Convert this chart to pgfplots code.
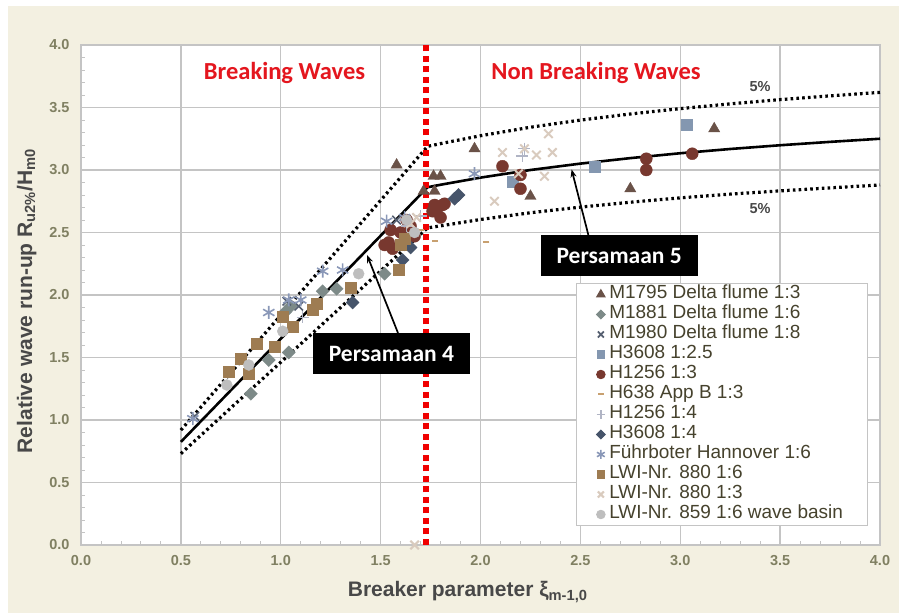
\documentclass[border=0pt]{standalone}
\usepackage{pgfplots}
\pgfplotsset{compat=1.18}
\usetikzlibrary{arrows.meta}
\usepackage{fontspec}
\setmainfont{Liberation Sans}
\newfontfamily\calibri{Carlito}
\definecolor{bg}{RGB}{243,240,225}
\definecolor{gridc}{RGB}{196,196,196}
\definecolor{tickc}{RGB}{128,128,98}
\definecolor{labc}{RGB}{72,72,72}
\definecolor{legc}{RGB}{70,66,45}
\definecolor{wred}{RGB}{228,22,30}
\definecolor{vred}{RGB}{240,0,0}
\definecolor{cA}{RGB}{106,82,72}   % M1795
\definecolor{cB}{RGB}{125,138,136} % M1881
\definecolor{cC}{RGB}{85,95,112}   % M1980
\definecolor{cD}{RGB}{132,151,176} % H3608 1:2.5
\definecolor{cE}{RGB}{120,56,47}   % H1256 1:3
\definecolor{cF}{RGB}{200,160,112} % H638
\definecolor{cG}{RGB}{176,180,196} % H1256 1:4
\definecolor{cH}{RGB}{70,84,106}   % H3608 1:4
\definecolor{cI}{RGB}{138,152,184} % Fuehrboter
\definecolor{cJ}{RGB}{158,124,82}  % LWI 880 1:6
\definecolor{cK}{RGB}{217,203,190} % LWI 880 1:3
\definecolor{cL}{RGB}{190,190,190} % LWI 859
\pgfplotsset{
  mk/.style={only marks,
    legend image code/.code={\draw[##1, mark size=#1] plot coordinates {(4.5pt,0pt)};}},
  mk/.default=4pt,
  dia/.style={mark=square*, mark options={rotate=45}},
}
\begin{document}
\begin{tikzpicture}
\useasboundingbox (0pt,0pt) rectangle (899pt,615pt);
\fill[white] (0pt,0pt) rectangle (899pt,615pt);
\fill[bg] (8pt,2pt) rectangle (899pt,609pt);
\begin{axis}[
  at={(81pt,70pt)}, anchor=south west,
  scale only axis, width=799pt, height=500pt,
  xmin=0, xmax=4, ymin=0, ymax=4,
  xtick={0,0.5,...,4}, ytick={0,0.5,...,4},
  minor x tick num=4, minor y tick num=4,
  axis background/.style={fill=white},
  grid=major, major grid style={gridc, line width=1.3pt},
  axis line style={gridc, line width=1.3pt},
  tick align=inside, tick pos=left,
  major tick length=0pt, minor tick length=4pt,
  minor tick style={gridc, line width=0.9pt},
  /pgf/number format/assume math mode=true,
  xticklabel style={/pgf/number format/fixed, /pgf/number format/fixed zerofill, /pgf/number format/precision=1, yshift=-7pt},
  yticklabel style={/pgf/number format/fixed, /pgf/number format/fixed zerofill, /pgf/number format/precision=1, xshift=-8pt},
  ticklabel style={font=\bfseries\fontsize{14.5}{14.5}\selectfont, text=tickc},
  xlabel={Breaker parameter ξ\textsubscript{m-1,0}},
  ylabel={Relative wave run-up R\textsubscript{u2\%}/H\textsubscript{m0}},
  every axis x label/.style={at={(axis description cs:0.484,-0.094)}, anchor=center, font=\bfseries\fontsize{21}{21}\selectfont, text=labc},
  every axis y label/.style={at={(axis description cs:-0.068,0.488)}, anchor=center, rotate=90, font=\bfseries\fontsize{21}{21}\selectfont, text=labc},
  legend style={at={(axis description cs:0.6195,0.524)}, anchor=north west,
    draw=gridc, line width=1pt, fill=white, inner xsep=20pt, inner ysep=2.5pt, row sep=3pt,
    nodes={font=\fontsize{19}{19}\selectfont, text=legc, inner xsep=4pt, inner ysep=0pt, text height=13pt, text depth=4pt}},
  legend cell align=left,
]
% M1795 Delta flume 1:3
\addplot[mk=4.8pt, mark=triangle*, mark size=6.5pt, color=cA] coordinates {
 (1.58,3.04) (1.97,3.17) (1.765,2.95) (1.80,2.95) (1.715,2.83) (1.77,2.83)
 (2.25,2.79) (2.75,2.85) (3.17,3.33)};
\addlegendentry{M1795 Delta flume 1:3}
% M1881 Delta flume 1:6
\addplot[mk=3.1pt, dia, mark size=4.6pt, color=cB] coordinates {
 (0.85,1.21) (0.94,1.48) (1.04,1.54) (1.05,1.91) (1.21,2.03) (1.28,2.05)
 (1.52,2.17) (1.02,1.86)};
\addlegendentry{M1881 Delta flume 1:6}
% M1980 Delta flume 1:8
\addplot[mk=4.2pt, mark=x, mark size=6pt, line width=1.6pt, color=cC] coordinates {
 (1.03,1.95) (1.58,2.60) (1.09,1.91) (0.57,1.03)};
\addlegendentry{M1980 Delta flume 1:8}
% H3608 1:2.5
\addplot[mk=3.8pt, mark=square*, mark size=5.5pt, color=cD] coordinates {
 (3.03,3.36) (2.57,3.03) (2.16,2.91)};
\addlegendentry{H3608 1:2.5}
% H1256 1:3
\addplot[mk=4.2pt, mark=*, mark size=6pt, color=cE] coordinates {
 (2.11,3.03) (2.20,2.96) (2.20,2.85) (2.83,3.09) (2.83,3.00) (3.06,3.13)
 (1.82,2.73) (1.77,2.72) (1.81,2.72) (1.76,2.67) (1.78,2.68) (1.80,2.62)
 (1.55,2.52) (1.52,2.40) (1.56,2.37) (1.54,2.42) (1.60,2.50) (1.65,2.55)
 (1.67,2.47) (1.63,2.60)};
\addlegendentry{H1256 1:3}
% H638 App B 1:3
\addplot[mk=3pt, mark=-, mark size=3pt, line width=2pt, color=cF] coordinates {
 (1.77,2.43) (2.03,2.42) (1.70,2.52)};
\addlegendentry{H638 App B 1:3}
% H1256 1:4
\addplot[mk=4.2pt, mark=+, mark size=6pt, line width=1.5pt, color=cG] coordinates {
 (2.21,3.11) (2.22,3.17) (1.11,1.82) (1.63,2.55) (1.70,2.63)};
\addlegendentry{H1256 1:4}
% H3608 1:4
\addplot[mk=3.1pt, dia, mark size=4.6pt, color=cH] coordinates {
 (1.89,2.80) (1.87,2.77) (1.61,2.28) (1.36,1.94) (1.65,2.38)};
\addlegendentry{H3608 1:4}
% Fuehrboter Hannover 1:6
\addplot[mk=4.5pt, mark=asterisk, mark size=6.5pt, line width=1.6pt, color=cI] coordinates {
 (0.56,1.01) (0.94,1.86) (1.04,1.96) (1.10,1.96) (1.21,2.19) (1.31,2.20)
 (1.53,2.59) (1.97,2.97) (1.62,2.62)};
\addlegendentry{Führboter Hannover 1:6}
% LWI-Nr. 880 1:6
\addplot[mk=3.8pt, mark=square*, mark size=5.5pt, color=cJ] coordinates {
 (0.74,1.39) (0.80,1.49) (0.84,1.37) (0.88,1.61) (0.97,1.59) (1.01,1.83)
 (1.06,1.75) (1.16,1.88) (1.18,1.93) (1.35,2.06) (1.59,2.20) (1.62,2.45)
 (1.60,2.40)};
\addlegendentry{LWI-Nr. 880 1:6}
% LWI-Nr. 880 1:3
\addplot[mk=4.2pt, mark=x, mark size=6pt, line width=2pt, color=cK] coordinates {
 (2.11,3.14) (2.22,3.17) (2.28,3.12) (2.36,3.14) (2.34,3.29) (2.32,2.95)
 (2.07,2.75) (1.67,0.0) (1.68,2.62) (1.65,2.57) (2.19,2.97)};
\addlegendentry{LWI-Nr. 880 1:3}
% LWI-Nr. 859 1:6 wave basin
\addplot[mk=4.2pt, mark=*, mark size=5.5pt, color=cL] coordinates {
 (0.73,1.28) (0.84,1.44) (1.01,1.71) (1.39,2.17) (1.63,2.60) (1.67,2.50)};
\addlegendentry{LWI-Nr. 859 1:6 wave basin}

% Equations: mean and 5% bounds
\addplot[black, line width=2.6pt, forget plot] coordinates {
 (0.5,0.825) (1.735,2.862) (1.8,2.882) (2.0,2.939) (2.25,3.000) (2.5,3.051)
 (2.75,3.095) (3.0,3.134) (3.25,3.168) (3.5,3.198) (3.75,3.225) (4.0,3.250)};
\addplot[black, line width=3.2pt, dash pattern=on 2.6pt off 3.2pt, forget plot] coordinates {
 (0.5,0.919) (1.735,3.189) (1.8,3.211) (2.0,3.274) (2.25,3.342) (2.5,3.399)
 (2.75,3.448) (3.0,3.491) (3.25,3.529) (3.5,3.563) (3.75,3.593) (4.0,3.621)};
\addplot[black, line width=3.2pt, dash pattern=on 2.6pt off 3.2pt, forget plot] coordinates {
 (0.5,0.731) (1.735,2.537) (1.8,2.553) (2.0,2.604) (2.25,2.658) (2.5,2.703)
 (2.75,2.742) (3.0,2.777) (3.25,2.807) (3.5,2.833) (3.75,2.857) (4.0,2.880)};
% breaking / non-breaking boundary
\addplot[vred, line width=5.5pt, dash pattern=on 6pt off 4.5pt, forget plot] coordinates {(1.728,0) (1.728,4)};

\node[anchor=base, font=\calibri\bfseries\fontsize{24.5}{24.5}\selectfont, text=wred] at (axis cs:1.019,3.72) {Breaking Waves};
\node[anchor=base, font=\calibri\bfseries\fontsize{24.5}{24.5}\selectfont, text=wred] at (axis cs:2.578,3.72) {Non Breaking Waves};
\node[anchor=base, font=\bfseries\fontsize{14.5}{14.5}\selectfont, text=labc] at (axis cs:3.40,3.626) {5\%};
\node[anchor=base, font=\bfseries\fontsize{14.5}{14.5}\selectfont, text=labc] at (axis cs:3.40,2.653) {5\%};

\draw[-{Stealth[length=8pt,width=6pt]}, line width=1.7pt] (axis cs:2.54,2.48) -- (axis cs:2.456,3.005);
\draw[-{Stealth[length=8pt,width=6pt]}, line width=1.7pt] (axis cs:1.587,1.696) -- (axis cs:1.432,2.32);
\node[fill=black, text=white, minimum width=157pt, minimum height=41pt, inner sep=0pt, font=\calibri\bfseries\fontsize{23.5}{23.5}\selectfont] at (axis cs:2.694,2.316) {Persamaan 5};
\node[fill=black, text=white, minimum width=157pt, minimum height=41pt, inner sep=0pt, font=\calibri\bfseries\fontsize{23.5}{23.5}\selectfont] at (axis cs:1.554,1.528) {Persamaan 4};
\end{axis}
\end{tikzpicture}
\end{document}
